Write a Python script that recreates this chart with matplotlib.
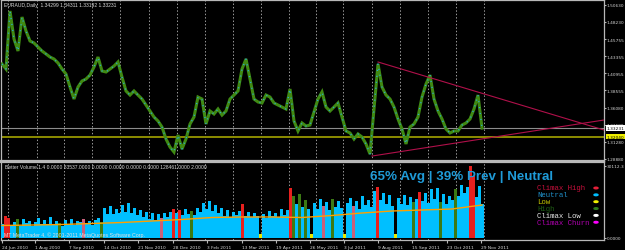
import numpy as np
import matplotlib.pyplot as plt

W, H = 625, 251

# EURAUD daily close, one sample every 4 bars
price = [1.4227, 1.4156, 1.4974, 1.4579, 1.4410, 1.4889, 1.4692, 1.4551, 1.4523, 1.4466,
         1.4410, 1.4368, 1.4325, 1.4297, 1.4241, 1.4156, 1.4086, 1.3902, 1.3733, 1.3902,
         1.3987, 1.4015, 1.4071, 1.4184, 1.4325, 1.4128, 1.4114, 1.4156, 1.4198, 1.4255,
         1.4043, 1.3846, 1.3789, 1.3846, 1.3789, 1.3733, 1.3648, 1.3564, 1.3479, 1.3423,
         1.3338, 1.3169, 1.3056, 1.2986, 1.3225, 1.3028, 1.3169, 1.3381, 1.3479, 1.3761,
         1.3733, 1.3381, 1.3564, 1.3522, 1.3592, 1.3507, 1.3564, 1.3733, 1.3789, 1.3846,
         1.4156, 1.4297, 1.4015, 1.3733, 1.3691, 1.3677, 1.3789, 1.3761, 1.3677, 1.3648,
         1.3620, 1.3592, 1.3874, 1.3423, 1.3282, 1.3395, 1.3352, 1.3366, 1.3550, 1.3733,
         1.3832, 1.3620, 1.3564, 1.3620, 1.3677, 1.3479, 1.3282, 1.3254, 1.3169, 1.3240,
         1.3197, 1.3099, 1.2958, 1.3592, 1.4227, 1.3902, 1.3789, 1.3733, 1.3620, 1.3451,
         1.3310, 1.3099, 1.3338, 1.3381, 1.3479, 1.3761, 1.3945, 1.4071, 1.3733, 1.3564,
         1.3451, 1.3310, 1.3254, 1.3282, 1.3282, 1.3366, 1.3395, 1.3451, 1.3592, 1.3789,
         1.3323]

# Better Volume histogram, one sample every 3 bars
volume = [6000, 9000, 8500, 5500, 6500, 7800, 5000, 8000, 6200, 7000,
          5200, 6800, 8200, 5800, 7400, 6000, 8600, 5400, 7000, 6400,
          5000, 7600, 6000, 7800, 5600, 7200, 6600, 8000, 6200, 7000,
          5400, 7600, 8400, 6800, 12600, 10000, 13400, 9800, 12000, 10400,
          13800, 11000, 14400, 10200, 12600, 9600, 11800, 8600, 10800, 8000,
          10200, 7600, 9800, 8400, 10600, 8800, 11000, 12000, 10400, 11800,
          9600, 12200, 10000, 11400, 9400, 12600, 10800, 14600, 12000, 15400,
          11200, 13800, 10600, 12400, 9200, 11600, 8800, 10800, 9400, 11200,
          14200, 9000, 11000, 8600, 10400, 9200, 1600, 10000, 8400, 11200,
          9000, 10600, 8800, 12000, 9600, 11800, 21000, 17600, 14000, 18400,
          13000, 16000, 12000, 1800, 14600, 12200, 16200, 13400, 15000, 11600,
          16400, 13000, 15600, 12400, 1600, 14400, 16800, 13200, 15200, 12000,
          17400, 13600, 15800, 12800, 19600, 21400, 16000, 18600, 14200, 17800,
          13400, 1800, 16600, 14000, 18000, 13600, 17200, 14800, 16400, 19000,
          15400, 18800, 14600, 20200, 16200, 21000, 15000, 18400, 14200, 17600,
          15800, 20400, 17400, 22000, 18800, 21200, 30000, 25600, 17000, 21800,
          14000]
climax_high = [1, 2, 57, 59, 80, 96, 125, 139, 156, 157]
high_bars = [5, 19, 33, 63, 97, 99, 101, 110, 137, 146, 151]
low_bars = [86, 103, 114, 131]
churn_bars = [27, 53, 107, 117]

# volume average, one sample every 30 bars
vol_avg = [5200, 5400, 5620, 6030, 6450, 7070, 7700, 8530, 8740,
           8740, 8530, 9360, 10400, 11230, 11650, 12060, 13730]

price_ticks = [1.5063, 1.4823, 1.45755, 1.43355, 1.40955, 1.38555,
               1.3608, 1.3368, 1.3128, 1.2888]
date_pos = [0, 33, 67, 102, 136, 171, 205, 240, 274, 308, 342, 376, 410, 445, 479]
date_labels = ["24 Jun 2010", "1 Aug 2010", "7 Sep 2010", "14 Oct 2010", "21 Nov 2010",
               "28 Dec 2010", "3 Feb 2011", "13 Mar 2011", "19 Apr 2011", "26 May 2011",
               "3 Jul 2011", "9 Aug 2011", "15 Sep 2011", "23 Oct 2011", "29 Nov 2011"]
grid_pos = [6, 35, 62, 90, 118, 147, 175, 203, 231, 259, 287, 314, 341, 370, 398, 426, 454, 482]

trend_down = ([376, 602], [1.4255, 1.3296])
trend_up = ([370, 602], [1.2929, 1.3437])
bid = 1.33231
level = 1.32040

legend_names = ["Climax High", "Neutral", "Low", "High", "Climax Low", "Climax Churn"]
legend_text_col = ["#c8103c", "#1f8fc8", "#c8c800", "#1e5e14", "#e8e8e8", "#b000b0"]
legend_dot_col = ["#e8203a", "#00bfff", "#f0f000", "#2e7d1e", "#ffffff", "#ff00ff"]

FG = "#d8d8d8"
EDGE = "#b8b8b8"

fig = plt.figure(figsize=(W / 100, H / 100), dpi=100, facecolor="black")
ax = fig.add_axes([1 / W, 1 - 162 / H, 603 / W, 161 / H], facecolor="black")
ax2 = fig.add_axes([1 / W, 1 - 241 / H, 603 / W, 78 / H], facecolor="black")

for a in (ax, ax2):
    a.set_xlim(-1, 602)
    for s in a.spines.values():
        s.set_color(EDGE)
        s.set_linewidth(0.9)
    for g in grid_pos:
        a.axvline(g, color="#9a9a9a", lw=0.7, ls=(0, (1.5, 2)), zorder=1)

# price panel
px = np.arange(len(price)) * 4
ax.plot(px, price, color="#3f8a12", lw=2.2, solid_joinstyle="miter", zorder=3)
ax.plot(px, price, color="#2aa8cc", lw=1.0, ls=(0, (0.8, 3.5)), zorder=4)
ax.axhline(bid, color="#8c8c8c", lw=0.8, zorder=2)
ax.axhline(level, color="#8c8c00", lw=1.4, zorder=2)
ax.plot(*trend_down, color="#b0104a", lw=0.8, zorder=5)
ax.plot(*trend_up, color="#b0104a", lw=0.8, zorder=5)
ax.set_ylim(1.2859, 1.5129)
ax.set_xticks([])
ax.yaxis.tick_right()
ax.set_yticks(price_ticks)
ax.set_yticklabels([f"{v:.5f}" for v in price_ticks])
ax.tick_params(axis="y", colors=EDGE, labelcolor=FG, labelsize=3.1, length=1.5, pad=0.6)
ax.spines["bottom"].set_linewidth(1.6)
for val, fc in ((bid, "white"), (level, "#f0f000")):
    ax.text(1.004, val, f"{val:.5f}", transform=ax.get_yaxis_transform(), ha="left",
            va="center", fontsize=3.1, color="black", zorder=10, clip_on=False,
            bbox=dict(fc=fc, ec="none", pad=0.5))

# volume panel
vx = np.arange(len(volume)) * 3
colors = ["#00bfff"] * len(volume)
for i in climax_high:
    colors[i] = "#e8201e"
for i in high_bars:
    colors[i] = "#3c7a14"
for i in low_bars:
    colors[i] = "#e8e800"
for i in churn_bars:
    colors[i] = "#c8607a"
ax2.bar(vx, volume, width=3, color=colors, linewidth=0, zorder=3)
ax2.plot(np.arange(len(vol_avg)) * 30, vol_avg, color="#ffa000", lw=1.0, zorder=4)
ax2.set_ylim(-832, 31616)
ax2.yaxis.tick_right()
ax2.set_yticks([30112.3, 0])
ax2.set_yticklabels(["30112.3", "0.0000"])
ax2.tick_params(axis="y", colors=EDGE, labelcolor=FG, labelsize=3.1, length=1.5, pad=0.6)
ax2.set_xticks(date_pos)
ax2.set_xticklabels(date_labels, ha="left")
ax2.tick_params(axis="x", colors=EDGE, labelcolor=FG, labelsize=3.2, length=2, pad=1.4)
ax2.spines["top"].set_linewidth(1.6)


def ftext(x, y, s, **kw):
    fig.text(x / W, 1 - y / H, s, va="center", **kw)


ftext(4, 6, "EURAUD,Daily  1.34299 1.34311 1.33192 1.33231", fontsize=3.6, color=FG,
      family="Liberation Sans")
ftext(5, 168, "Better Volume 1.4 0.0000 83537.0000 0.0000 0.0000 0.0000 0.0000 128461.0000 2.0000",
      fontsize=3.6, color=FG, family="Liberation Sans")
ftext(4, 235, "MT MetaTrader 4, \u00a9 2001-2011 MetaQuotes Software Corp.", fontsize=3.8,
      color="#e0e0e0", family="Liberation Sans")
ftext(370, 177, "65% Avg | 39% Prev | Neutral", fontsize=9.6, fontweight="bold",
      color="#1f9bd8", family="Liberation Sans")

for k, (name, tc, dc) in enumerate(zip(legend_names, legend_text_col, legend_dot_col)):
    y = 189 + k * 6.85
    ftext(537, y, name, fontsize=5.3, color=tc, family="Liberation Mono")
    fig.patches.append(plt.Circle((596 / W, 1 - y / H), 2.0 / W, color=dc,
                                  transform=fig.transFigure, figure=fig))

fig.savefig("out.png", dpi=100, facecolor="black")
